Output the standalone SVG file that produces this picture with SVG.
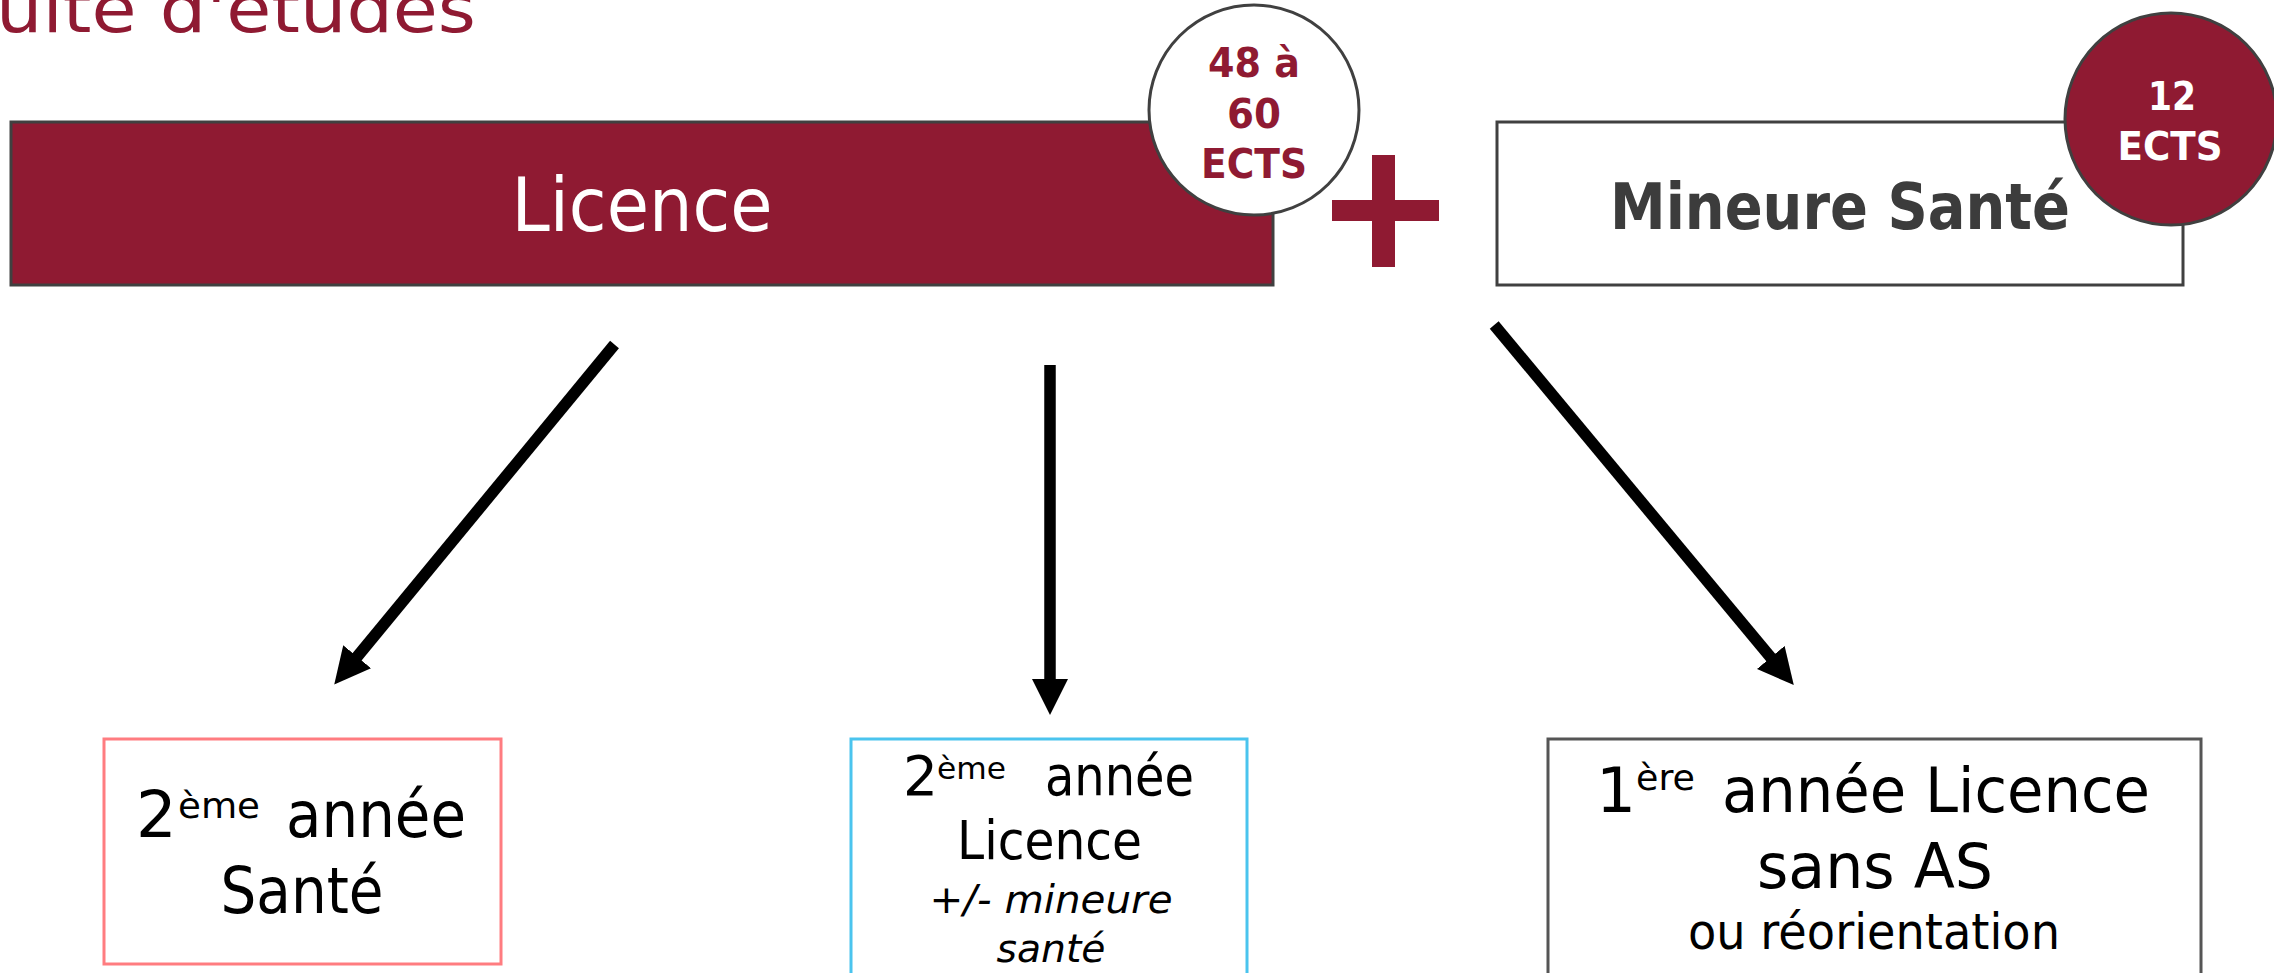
<svg xmlns="http://www.w3.org/2000/svg" width="2274" height="973" viewBox="0 0 2274 973">
<defs>
<style>
text{font-family:"DejaVu Sans","Liberation Sans",sans-serif}
.red{fill:#8F1A32}
.b{font-weight:bold}
.blk{fill:#000}
.it{font-style:italic}
.box{fill:#fff;stroke-width:3}
.conn{stroke:#000;stroke-width:11.5;fill:none;marker-end:url(#ah)}
</style>
<marker id="ah" markerUnits="userSpaceOnUse" viewBox="0 0 36 36" markerWidth="36" markerHeight="36" refX="1" refY="18" orient="auto">
<path d="M0,0 L36,18 L0,36 z" fill="#000"/>
</marker>
</defs>
<rect width="2274" height="973" fill="#fff"/>

<g id="title">
<text class="red" x="-42" y="32" font-size="65" textLength="518" lengthAdjust="spacingAndGlyphs">suite d'études</text>
</g>

<g id="licence">
<rect x="11" y="122" width="1262" height="163" fill="#8F1A32" stroke="#404040" stroke-width="3"/>
<text x="642" y="231" font-size="74" fill="#fff" text-anchor="middle" textLength="261" lengthAdjust="spacingAndGlyphs">Licence</text>
</g>

<g id="badge-licence">
<circle cx="1254" cy="110" r="105" fill="#fff" stroke="#404040" stroke-width="3"/>
<text class="red b" x="1254" y="77" font-size="41" text-anchor="middle" textLength="92" lengthAdjust="spacingAndGlyphs">48 à</text>
<text class="red b" x="1254" y="128" font-size="41" text-anchor="middle" textLength="54" lengthAdjust="spacingAndGlyphs">60</text>
<text class="red b" x="1254" y="178" font-size="41" text-anchor="middle" textLength="106" lengthAdjust="spacingAndGlyphs">ECTS</text>
</g>

<g id="plus">
<rect x="1372" y="155" width="23" height="112" fill="#8F1A32"/>
<rect x="1332" y="200" width="107" height="21" fill="#8F1A32"/>
</g>

<g id="mineure">
<rect x="1497" y="122" width="686" height="163" fill="#fff" stroke="#404040" stroke-width="3"/>
<text class="b" x="1840" y="229" font-size="64" fill="#3C3C3C" text-anchor="middle" textLength="460" lengthAdjust="spacingAndGlyphs">Mineure Santé</text>
</g>

<g id="badge-mineure">
<circle cx="2171" cy="119" r="106" fill="#8F1A32" stroke="#404040" stroke-width="3"/>
<text class="b" x="2172" y="110" font-size="39" fill="#fff" text-anchor="middle" textLength="48" lengthAdjust="spacingAndGlyphs">12</text>
<text class="b" x="2170" y="160" font-size="39" fill="#fff" text-anchor="middle" textLength="105" lengthAdjust="spacingAndGlyphs">ECTS</text>
</g>

<g id="connectors">
<line class="conn" x1="614.5" y1="344.5" x2="356.5" y2="657.5"/>
<line class="conn" x1="1050" y1="365" x2="1050" y2="680"/>
<line class="conn" x1="1494.2" y1="325" x2="1771.4" y2="658.2"/>
</g>

<g id="sante2">
<rect class="box" x="104" y="739" width="397" height="225" stroke="#FF7C80"/>
<text class="blk" x="136" y="837" font-size="64">2</text>
<text class="blk" x="178" y="818" font-size="36" textLength="82" lengthAdjust="spacingAndGlyphs">ème</text>
<text class="blk" x="286" y="837" font-size="64" textLength="180" lengthAdjust="spacingAndGlyphs">année</text>
<text class="blk" x="302" y="913" font-size="64" text-anchor="middle" textLength="163" lengthAdjust="spacingAndGlyphs">Santé</text>
</g>

<g id="licence2">
<rect class="box" x="851" y="739" width="396" height="245" stroke="#4AC4EE"/>
<text class="blk" x="903" y="795" font-size="55">2</text>
<text class="blk" x="937" y="779" font-size="31" textLength="69" lengthAdjust="spacingAndGlyphs">ème</text>
<text class="blk" x="1045" y="795" font-size="55" textLength="149" lengthAdjust="spacingAndGlyphs">année</text>
<text class="blk" x="1049.5" y="859" font-size="53" text-anchor="middle" textLength="185" lengthAdjust="spacingAndGlyphs">Licence</text>
<text class="blk it" x="1051" y="913" font-size="39" text-anchor="middle" textLength="243" lengthAdjust="spacingAndGlyphs">+/- mineure</text>
<text class="blk it" x="1051" y="962" font-size="39" text-anchor="middle" textLength="109" lengthAdjust="spacingAndGlyphs">santé</text>
</g>

<g id="licence1">
<rect class="box" x="1548" y="739" width="653" height="245" stroke="#555555"/>
<text class="blk" x="1596" y="812" font-size="63">1</text>
<text class="blk" x="1636" y="790" font-size="36" textLength="59" lengthAdjust="spacingAndGlyphs">ère</text>
<text class="blk" x="1722" y="812" font-size="63" textLength="428" lengthAdjust="spacingAndGlyphs">année Licence</text>
<text class="blk" x="1875" y="888" font-size="63" text-anchor="middle" textLength="236" lengthAdjust="spacingAndGlyphs">sans AS</text>
<text class="blk" x="1874" y="949" font-size="49" text-anchor="middle" textLength="372" lengthAdjust="spacingAndGlyphs">ou réorientation</text>
</g>
</svg>
